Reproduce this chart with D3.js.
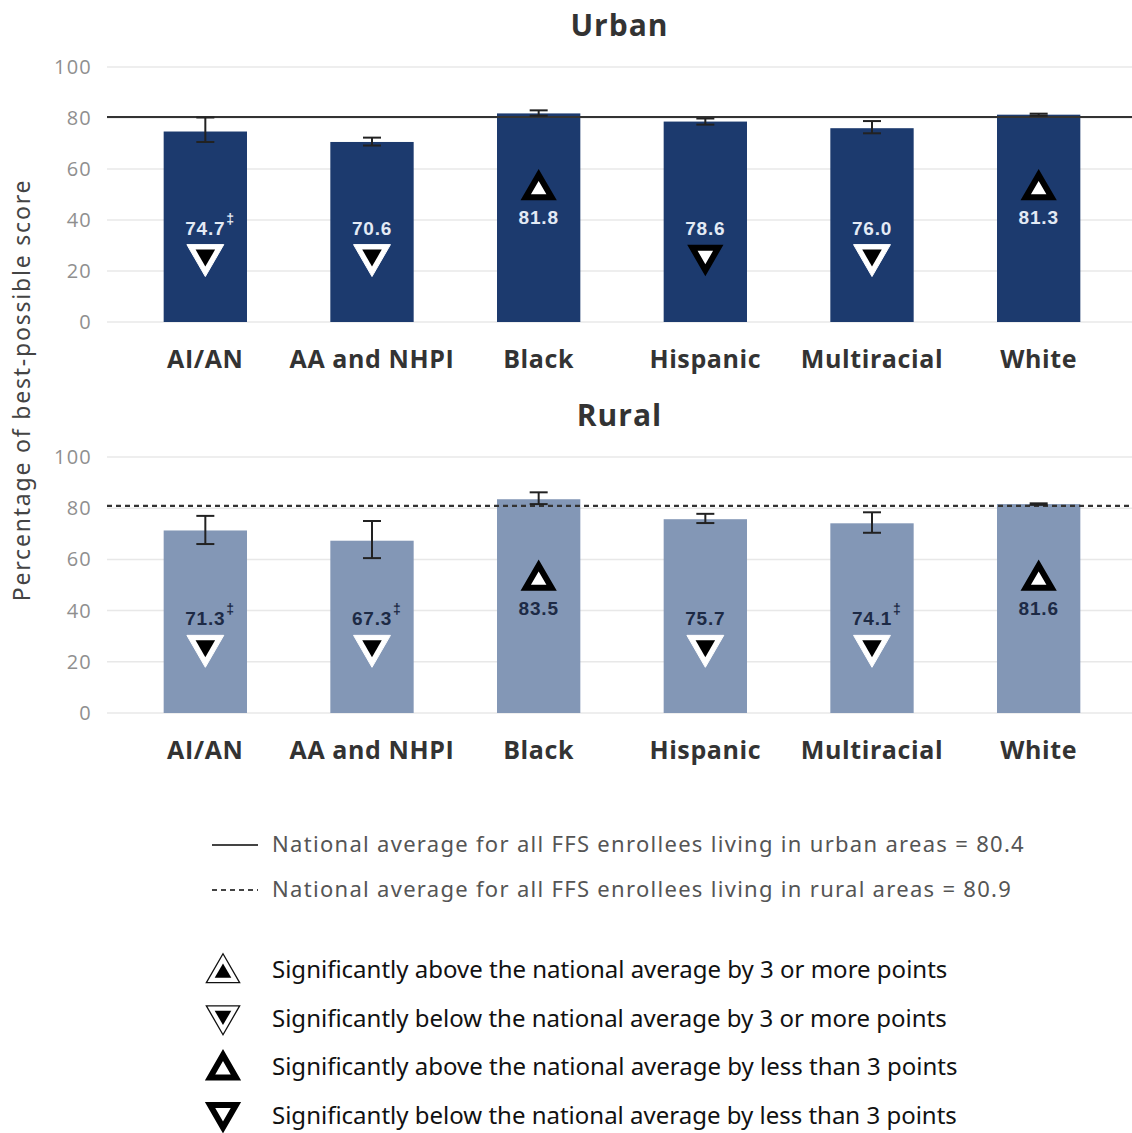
<!DOCTYPE html>
<html>
<head>
<meta charset="utf-8">
<script src="https://cdn.jsdelivr.net/npm/d3@7"></script>
<style>
  body { margin: 0; background: #fff; }
  svg { display: block; font-family: "Open Sans", "Noto Sans", sans-serif; }
</style>
</head>
<body>
<svg id="chart" width="1132" height="1133"></svg>
<script>
// data
const categories = ["AI/AN", "AA and NHPI", "Black", "Hispanic", "Multiracial", "White"];

const urbanValues = [74.7, 70.6, 81.8, 78.6, 76.0, 81.3];
const urbanLow    = [70.6, 69.2, 80.9, 77.4, 74.0, 80.9];
const urbanHigh   = [80.2, 72.3, 83.0, 79.8, 78.8, 81.7];
const urbanMarks  = ["below3", "below3", "aboveLess", "belowLess", "below3", "aboveLess"];
const urbanFlag   = [true, false, false, false, false, false];
const urbanAverage = 80.4;

const ruralValues = [71.3, 67.3, 83.5, 75.7, 74.1, 81.6];
const ruralLow    = [66.0, 60.5, 81.6, 74.2, 70.4, 81.3];
const ruralHigh   = [77.0, 75.0, 86.2, 77.8, 78.4, 81.9];
const ruralMarks  = ["below3", "below3", "aboveLess", "below3", "below3", "aboveLess"];
const ruralFlag   = [true, true, false, false, true, false];
const ruralAverage = 80.9;

const yTicks = [0, 20, 40, 60, 80, 100];

const legendLines = [
  "National average for all FFS enrollees living in urban areas = 80.4",
  "National average for all FFS enrollees living in rural areas = 80.9"
];
const legendMarks = [
  ["above3", "Significantly above the national average by 3 or more points"],
  ["below3", "Significantly below the national average by 3 or more points"],
  ["aboveLess", "Significantly above the national average by less than 3 points"],
  ["belowLess", "Significantly below the national average by less than 3 points"]
];

const plotLeft = 107;
const plotRight = 1132;

const svg = d3.select("#chart");

const x = d3.scaleBand()
  .domain(categories)
  .range([122, 1122])
  .paddingInner(0.5)
  .paddingOuter(0.25);

// triangle marker: kind = above3 / below3 / aboveLess / belowLess
function drawMarker(g, kind, cx, cy, inBar) {
  const up = kind.startsWith("above");
  const tri = size => d3.symbol(d3.symbolTriangle, size)();
  // symbolTriangle is centred on its centroid, shift so the box is centred
  const m = g.append("g")
    .attr("transform", `translate(${cx},${cy}) rotate(${up ? 0 : 180}) translate(0,3)`);
  if (kind === "above3" || kind === "below3") {
    m.append("path").attr("d", tri(inBar ? 590 : 480))
      .attr("fill", "#fff")
      .attr("stroke", inBar ? "#fff" : "#111")
      .attr("stroke-width", inBar ? 1 : 1.3)
      .attr("stroke-linejoin", "miter");
    m.append("path").attr("d", tri(inBar ? 165 : 120)).attr("fill", "#000");
  } else {
    m.append("path").attr("d", tri(290))
      .attr("fill", "#fff").attr("stroke", "#000")
      .attr("stroke-width", 6).attr("stroke-linejoin", "miter");
  }
}

function drawPanel(opts) {
  const { title, titleY, y0, y1, values, low, high, marks, flags, average, dashed, barColor, labelColor } = opts;
  const y = d3.scaleLinear().domain([0, 100]).range([y0, y1]);
  const g = svg.append("g");

  // grid
  g.selectAll("line.grid")
    .data(yTicks)
    .join("line")
    .attr("x1", plotLeft).attr("x2", plotRight)
    .attr("y1", d => y(d)).attr("y2", d => y(d))
    .attr("stroke", "#e8e8e8").attr("stroke-width", 1.5);

  // y axis
  const axis = g.append("g")
    .attr("transform", `translate(${plotLeft},0)`)
    .call(d3.axisLeft(y).tickValues(yTicks).tickSize(0).tickPadding(15));
  axis.select(".domain").remove();
  axis.selectAll("text")
    .attr("font-size", 20)
    .attr("letter-spacing", "1.2px")
    .attr("fill", "#8f8f8f")
    .attr("font-family", "'Open Sans', sans-serif");

  // title
  g.append("text")
    .attr("x", (plotLeft + plotRight) / 2)
    .attr("y", titleY)
    .attr("text-anchor", "middle")
    .attr("font-size", 30)
    .attr("letter-spacing", "1px")
    .attr("font-weight", "bold")
    .attr("fill", "#333")
    .text(title);

  // bars
  g.selectAll("rect.bar")
    .data(categories)
    .join("rect")
    .attr("x", d => x(d))
    .attr("width", x.bandwidth())
    .attr("y", (d, i) => y(values[i]))
    .attr("height", (d, i) => y(0) - y(values[i]))
    .attr("fill", barColor);

  // national average line
  g.append("line")
    .attr("x1", plotLeft).attr("x2", plotRight)
    .attr("y1", y(average)).attr("y2", y(average))
    .attr("stroke", "#333")
    .attr("stroke-width", 2.2)
    .attr("stroke-dasharray", dashed ? "5,4" : null);

  // error bars
  const eb = g.selectAll("g.err")
    .data(categories)
    .join("g")
    .attr("transform", d => `translate(${x(d) + x.bandwidth() / 2},0)`);
  eb.append("line")
    .attr("y1", (d, i) => y(low[i])).attr("y2", (d, i) => y(high[i]))
    .attr("stroke", "#222").attr("stroke-width", 2);
  eb.append("line")
    .attr("x1", -9).attr("x2", 9)
    .attr("y1", (d, i) => y(low[i])).attr("y2", (d, i) => y(low[i]))
    .attr("stroke", "#222").attr("stroke-width", 2);
  eb.append("line")
    .attr("x1", -9).attr("x2", 9)
    .attr("y1", (d, i) => y(high[i])).attr("y2", (d, i) => y(high[i]))
    .attr("stroke", "#222").attr("stroke-width", 2);

  // value labels + markers
  categories.forEach((c, i) => {
    const cx = x(c) + x.bandwidth() / 2;
    const up = marks[i].startsWith("above");
    const labelVal = up ? 41 : 37;
    const markVal = up ? 53 : 25;
    g.append("text")
      .attr("x", cx)
      .attr("y", y(labelVal) + 7)
      .attr("text-anchor", "middle")
      .attr("font-family", "'Liberation Sans', Arial, sans-serif")
      .attr("font-weight", "bold")
      .attr("font-size", 19)
      .attr("letter-spacing", "0.8px")
      .attr("fill", labelColor)
      .text(values[i].toFixed(1));
    if (flags[i]) {
      g.append("text")
        .attr("x", cx + 21)
        .attr("y", y(labelVal) - 4)
        .attr("font-family", "'Liberation Sans', Arial, sans-serif")
        .attr("font-weight", "bold")
        .attr("font-size", 14)
        .attr("fill", labelColor)
        .text("\u2021");
    }
    drawMarker(g, marks[i], cx, y(markVal), true);
  });

  // category labels
  g.selectAll("text.cat")
    .data(categories)
    .join("text")
    .attr("x", d => x(d) + x.bandwidth() / 2)
    .attr("y", y0 + 46)
    .attr("text-anchor", "middle")
    .attr("font-size", 25)
    .attr("letter-spacing", "0.6px")
    .attr("font-weight", "bold")
    .attr("fill", "#333")
    .text(d => d);
}

drawPanel({
  title: "Urban", titleY: 36, y0: 322, y1: 67,
  values: urbanValues, low: urbanLow, high: urbanHigh, marks: urbanMarks, flags: urbanFlag,
  average: urbanAverage, dashed: false, barColor: "#1c3a6e", labelColor: "#e3eaf5"
});

drawPanel({
  title: "Rural", titleY: 426, y0: 713, y1: 457,
  values: ruralValues, low: ruralLow, high: ruralHigh, marks: ruralMarks, flags: ruralFlag,
  average: ruralAverage, dashed: true, barColor: "#8397b6", labelColor: "#1d2a45"
});

// y axis title
svg.append("text")
  .attr("transform", "translate(30,390) rotate(-90)")
  .attr("text-anchor", "middle")
  .attr("font-family", "'Noto Sans', sans-serif")
  .attr("font-size", 23)
  .attr("letter-spacing", "1.8px")
  .attr("fill", "#444")
  .text("Percentage of best-possible score");

// line legend
const lineLegend = svg.append("g");
legendLines.forEach((txt, i) => {
  const ly = 845 + i * 45;
  lineLegend.append("line")
    .attr("x1", 212).attr("x2", 258)
    .attr("y1", ly).attr("y2", ly)
    .attr("stroke", "#444")
    .attr("stroke-width", i === 0 ? 2.2 : 1.8)
    .attr("stroke-dasharray", i === 0 ? null : "5,4");
  lineLegend.append("text")
    .attr("x", 272).attr("y", ly + 7)
    .attr("font-family", "'Noto Sans', sans-serif")
    .attr("font-size", 22)
    .attr("letter-spacing", "1.3px")
    .attr("fill", "#555")
    .text(txt);
});

// marker legend
const markLegend = svg.append("g");
legendMarks.forEach(([kind, txt], i) => {
  const ly = 970 + i * 48.5;
  drawMarker(markLegend, kind, 223, ly, false);
  markLegend.append("text")
    .attr("x", 272).attr("y", ly + 8)
    .attr("font-family", "'Noto Sans', sans-serif")
    .attr("font-size", 24)
    .attr("fill", "#111")
    .text(txt);
});
</script>
</body>
</html>
